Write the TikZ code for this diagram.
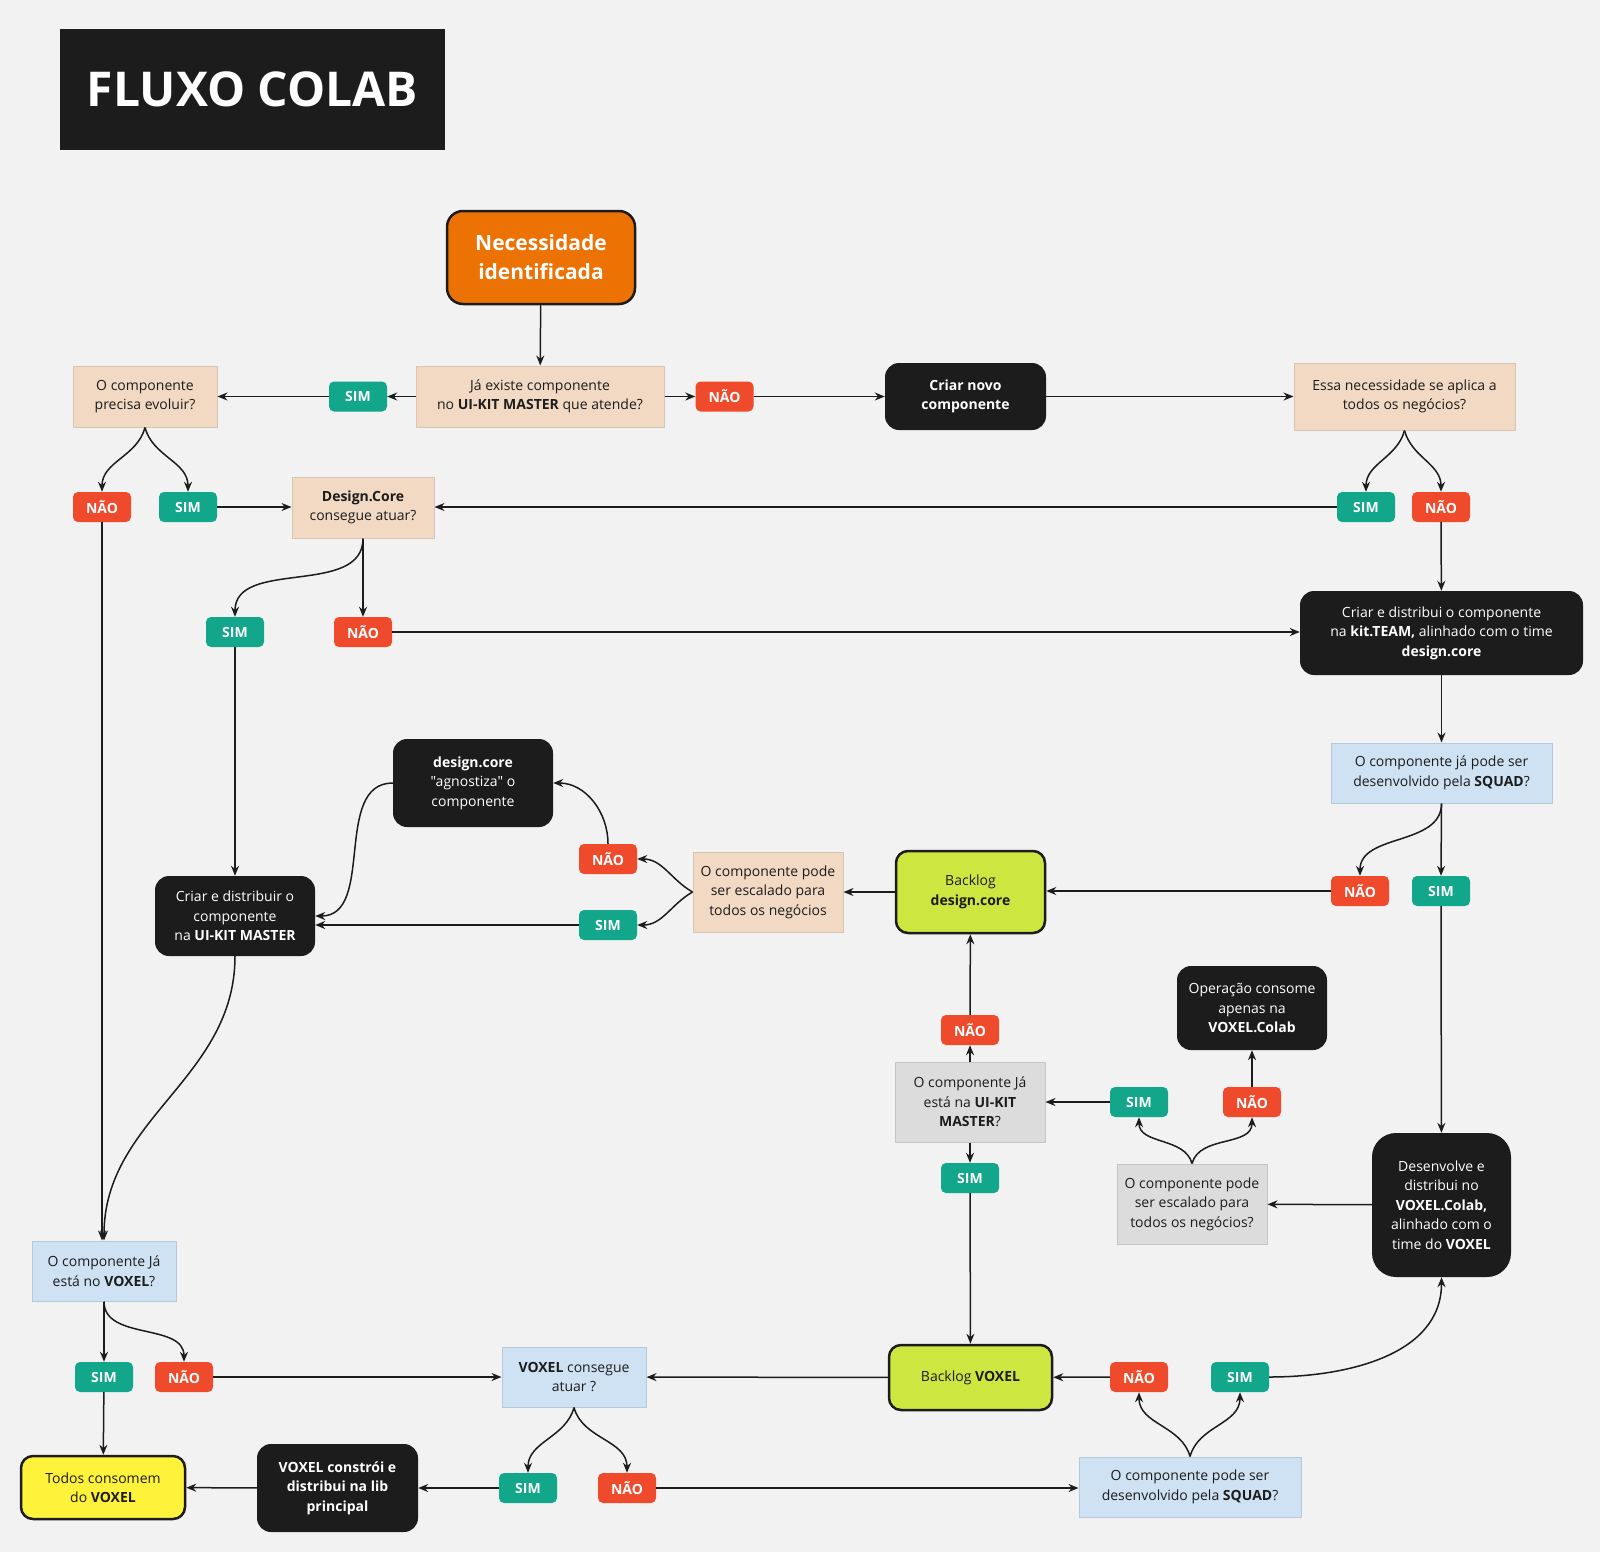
\documentclass[tikz,border=0pt]{standalone}
\usepackage{fontspec}
\setmainfont{Open Sans}[Ligatures=TeXOff]
\usepackage{xcolor}
\usepackage{tikz}
\usetikzlibrary{arrows.meta}
\definecolor{bggray}{RGB}{242, 242, 242}
\definecolor{inkblack}{RGB}{28, 28, 28}
\definecolor{orangefill}{RGB}{236, 114, 4}
\definecolor{peach}{RGB}{242, 217, 196}
\definecolor{peachline}{RGB}{214, 196, 180}
\definecolor{skyfill}{RGB}{207, 226, 243}
\definecolor{skyline}{RGB}{180, 200, 222}
\definecolor{greyfill}{RGB}{220, 220, 220}
\definecolor{greyline}{RGB}{196, 196, 196}
\definecolor{limefill}{RGB}{206, 230, 64}
\definecolor{yellowfill}{RGB}{255, 242, 58}
\definecolor{simgreen}{RGB}{18, 166, 138}
\definecolor{naored}{RGB}{240, 74, 44}
\tikzset{
    boxbase/.style = {rectangle, align=center, inner sep=2pt, text=inkblack, font=\fontsize{14}{19.5}\selectfont},
    askbox/.style = {boxbase, fill=peach, draw=peachline, line width=1pt},
    bluebox/.style = {boxbase, fill=skyfill, draw=skyline, line width=1pt},
    greybox/.style = {boxbase, fill=greyfill, draw=greyline, line width=1pt},
    darkbox/.style = {boxbase, fill=inkblack, text=white, rounded corners=14pt},
    backlog/.style = {boxbase, fill=limefill, draw=inkblack, line width=2.5pt, rounded corners=12pt},
    badge/.style = {rectangle, rounded corners=5pt, minimum width=58pt, minimum height=30pt, inner sep=0pt, text=white, font=\fontsize{14}{16}\selectfont\bfseries},
    sim/.style = {badge, fill=simgreen},
    nao/.style = {badge, fill=naored},
    dims/.style 2 args = {minimum width=#1, minimum height=#2},
    arrow/.style = {line width=1.5pt, draw=inkblack, -{Stealth[length=10pt, width=8pt]}}
}

\begin{document}
\begin{tikzpicture}[x=1pt, y=1pt]
\useasboundingbox [fill=bggray] (0,0) rectangle (1600,-1552);

% Nodes
\node (title) [fill=inkblack, dims={385pt}{121pt}, text=white, font=\fontsize{48}{56}\selectfont\bfseries] at (252.5,-89.5) {FLUXO COLAB};
\node (need) [boxbase, fill=orangefill, draw=inkblack, line width=2.5pt, rounded corners=16pt, dims={188pt}{93pt}, text=white, font=\fontsize{21}{29}\selectfont\bfseries] at (541,-257.5) {Necessidade\\identificada};

\node (q1) [askbox, dims={248pt}{61pt}] at (540,-396.5) {Já existe componente\\no \textbf{UI-KIT MASTER} que atende?};
\node (q2) [askbox, dims={144pt}{61pt}] at (145,-396.5) {O componente\\precisa evoluir?};
\node (novo) [darkbox, dims={161pt}{67pt}] at (965.5,-396.5) {\textbf{Criar novo}\\\textbf{componente}};
\node (q3) [askbox, dims={221pt}{67pt}] at (1404.5,-396.5) {Essa necessidade se aplica a\\todos os negócios?};
\node (q4) [askbox, dims={142pt}{61pt}] at (363,-507.5) {\textbf{Design.Core}\\consegue atuar?};
\node (kitteam) [darkbox, dims={283pt}{84pt}] at (1441.5,-633) {Criar e distribui o componente\\na \textbf{kit.TEAM,} alinhado com o time\\\textbf{design.core}};
\node (q5) [bluebox, dims={221pt}{60pt}] at (1441.5,-773) {O componente já pode ser\\desenvolvido pela \textbf{SQUAD}?};
\node (backdc) [backlog, dims={149pt}{82pt}] at (970.5,-892) {Backlog\\\textbf{design.core}};
\node (q6) [askbox, dims={150pt}{80pt}] at (768,-892) {O componente pode\\ser escalado para\\todos os negócios};
\node (agnos) [darkbox, dims={160pt}{88pt}] at (473,-783) {\textbf{design.core}\\"agnostiza" o\\componente};
\node (uikit) [darkbox, dims={160pt}{80pt}] at (235,-916) {Criar e distribuir o\\componente\\na \textbf{UI-KIT MASTER}};
\node (q7) [greybox, dims={150pt}{80pt}] at (970,-1102) {O componente Já\\está na \textbf{UI-KIT}\\\textbf{MASTER}?};
\node (oper) [darkbox, dims={150pt}{84pt}] at (1252,-1008) {Operação consome\\apenas na\\\textbf{VOXEL.Colab}};
\node (q8) [greybox, dims={150pt}{80pt}] at (1192,-1204) {O componente pode\\ser escalado para\\todos os negócios?};
\node (devolve) [darkbox, rounded corners=24pt, dims={139pt}{144pt}] at (1441.5,-1205) {Desenvolve e\\distribui no\\\textbf{VOXEL.Colab,}\\alinhado com o\\time do \textbf{VOXEL}};
\node (q9) [bluebox, dims={144pt}{60pt}] at (104,-1271) {O componente Já\\está no \textbf{VOXEL}?};
\node (q10) [bluebox, dims={144pt}{60pt}] at (574,-1377) {\textbf{VOXEL} consegue\\atuar ?};
\node (backvx) [backlog, dims={163pt}{65pt}] at (970.5,-1377.5) {Backlog \textbf{VOXEL}};
\node (todos) [backlog, fill=yellowfill, dims={164pt}{63pt}] at (103,-1487.5) {Todos consomem\\do \textbf{VOXEL}};
\node (constroi) [darkbox, dims={161pt}{88pt}] at (337.5,-1488) {\textbf{VOXEL constrói e}\\\textbf{distribui na lib}\\\textbf{principal}};
\node (q11) [bluebox, dims={222pt}{60pt}] at (1190,-1487) {O componente pode ser\\desenvolvido pela \textbf{SQUAD}?};

% Badges
\node (simA) [sim] at (358,-396.5) {SIM};
\node (naoA) [nao] at (724.5,-396.5) {NÃO};
\node (naoB) [nao] at (102,-507) {NÃO};
\node (simB) [sim] at (188,-507) {SIM};
\node (simC) [sim] at (1366,-507) {SIM};
\node (naoC) [nao] at (1441,-507) {NÃO};
\node (simD) [sim] at (235,-632) {SIM};
\node (naoD) [nao] at (363,-632) {NÃO};
\node (naoE) [nao] at (1360,-891) {NÃO};
\node (simE) [sim] at (1441,-891) {SIM};
\node (naoF) [nao] at (608,-859) {NÃO};
\node (simF) [sim] at (608,-925) {SIM};
\node (naoG) [nao] at (970,-1030) {NÃO};
\node (simG) [sim] at (1139,-1102) {SIM};
\node (naoH) [nao] at (1252,-1102) {NÃO};
\node (simH) [sim] at (970,-1178) {SIM};
\node (simI) [sim] at (104,-1377) {SIM};
\node (naoI) [nao] at (184,-1377) {NÃO};
\node (naoJ) [nao] at (1139,-1377) {NÃO};
\node (simJ) [sim] at (1240,-1377) {SIM};
\node (simK) [sim] at (528,-1488) {SIM};
\node (naoK) [nao] at (627,-1488) {NÃO};

% Arrows
\draw [arrow] (need) -- (q1);
\draw [arrow] (q1) -- (simA);
\draw [arrow] (simA) -- (q2);
\draw [arrow] (q1) -- (naoA);
\draw [arrow] (naoA) -- (novo);
\draw [arrow] (novo) -- (q3);
\draw [arrow] (q2.south) to[out=-105, in=90] (naoB.north);
\draw [arrow] (q2.south) to[out=-75, in=90] (simB.north);
\draw [arrow] (simB.east) -- (simB.east -| q4.west);
\draw [arrow] (simC.west) -- (simC.west -| q4.east);
\draw [arrow] (q3.south) to[out=-105, in=90] (simC.north);
\draw [arrow] (q3.south) to[out=-75, in=90] (naoC.north);
\draw [arrow] (naoC) -- (kitteam);
\draw [arrow] (naoB.south) -- (naoB.south |- q9.north);
\draw [arrow] (q4.south) to[out=-90, in=90] (simD.north);
\draw [arrow] (q4.south) -- (naoD.north);
\draw [arrow] (naoD.east) -- (naoD.east -| kitteam.west);
\draw [arrow] (simD) -- (uikit);
\draw [arrow] (kitteam) -- (q5);
\draw [arrow] (q5.south) to[out=-90, in=90] (naoE.north);
\draw [arrow] (q5.south) -- (simE.north);
\draw [arrow] (naoE.west) -- (naoE.west -| backdc.east);
\draw [arrow] (backdc) -- (q6);
\draw [arrow] (q6.west) to[out=150, in=0] (naoF.east);
\draw [arrow] (q6.west) to[out=210, in=0] (simF.east);
\draw [arrow] (naoF.north) to[out=90, in=0] (agnos.east);
\draw [arrow] (agnos.west) to[out=180, in=0] (uikit.east);
\draw [arrow] (simF.west) -- (simF.west -| uikit.east);
\draw [arrow] (uikit.south) to[out=-90, in=90] (q9.north);
\draw [arrow] (q9.south) -- (simI.north);
\draw [arrow] (q9.south) to[out=-90, in=90] (naoI.north);
\draw [arrow] (simI) -- (todos);
\draw [arrow] (naoI) -- (q10);
\draw [arrow] (backvx) -- (q10);
\draw [arrow] (q10.south) to[out=-105, in=90] (simK.north);
\draw [arrow] (q10.south) to[out=-75, in=90] (naoK.north);
\draw [arrow] (simK) -- (constroi);
\draw [arrow] (constroi) -- (todos);
\draw [arrow] (naoK.east) -- (naoK.east -| q11.west);
\draw [arrow] (q11.north) to[out=105, in=-90] (naoJ.south);
\draw [arrow] (q11.north) to[out=75, in=-90] (simJ.south);
\draw [arrow] (naoJ) -- (backvx);
\draw [arrow] (simJ.east) to[out=0, in=-90] (devolve.south);
\draw [arrow] (simE) -- (devolve);
\draw [arrow] (devolve) -- (q8);
\draw [arrow] (q8.north) to[out=105, in=-90] (simG.south);
\draw [arrow] (q8.north) to[out=75, in=-90] (naoH.south);
\draw [arrow] (simG) -- (q7);
\draw [arrow] (naoH) -- (oper);
\draw [arrow] (q7) -- (naoG);
\draw [arrow] (naoG) -- (backdc);
\draw [arrow] (q7) -- (simH);
\draw [arrow] (simH) -- (backvx);

\end{tikzpicture}
\end{document}
